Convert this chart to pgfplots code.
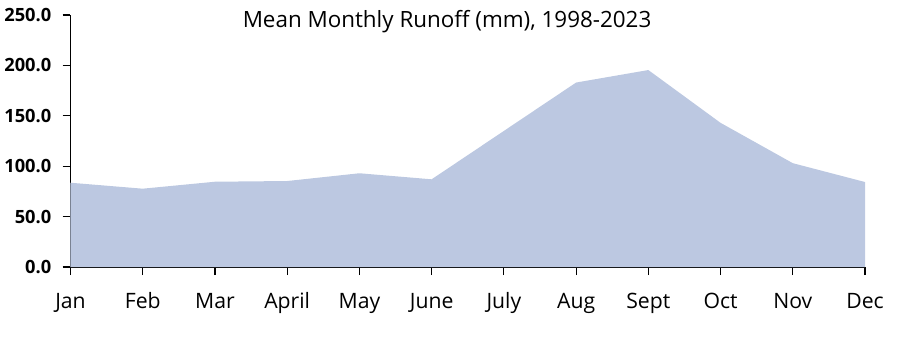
\documentclass[border=0pt]{standalone}
\usepackage{pgfplots}
\pgfplotsset{compat=1.18}
\usepackage{fontspec}
\setmainfont{Open Sans}
\definecolor{areafill}{RGB}{188,200,225}
\begin{document}
\begin{tikzpicture}
\path[use as bounding box] (-52.875pt,-52.5pt) rectangle (619.875pt,200.25pt);
\begin{axis}[
  at={(0,0)}, anchor=south west,
  scale only axis,
  width=595.9pt, height=189pt,
  xmin=0, xmax=11, ymin=0, ymax=250,
  axis lines=left,
  axis line style={-, line width=0.9pt},
  xtick={0,...,11},
  xticklabels={Jan,Feb,Mar,April,May,June,July,Aug,Sept,Oct,Nov,Dec},
  ytick={0,50,...,250},
  tick align=outside,
  major tick length=6pt,
  tick style={line width=0.9pt, black},
  yticklabel={\pgfmathprintnumber[fixed,fixed zerofill,precision=1]{\tick}},
  /pgf/number format/assume math mode=true,
  yticklabel style={font=\fontsize{13.7}{15}\selectfont\bfseries, inner sep=0pt, anchor=east, xshift=-8.2pt},
  xticklabel style={font=\fontsize{15.9}{18}\selectfont, inner sep=0pt, anchor=base, yshift=-25pt},
  typeset ticklabels with strut,
  clip=false,
]
\addplot[fill=areafill, draw=none] coordinates {
 (0,83.6) (1,77.7) (2,84.6) (3,85.3) (4,93) (5,87) (6,135) (7,183) (8,195.4) (9,143) (10,103) (11,84.3)
} \closedcycle;
\end{axis}
\node[font=\fontsize{16.8}{19}\selectfont, anchor=base, inner sep=0pt] at (282.4pt,179.5pt) {Mean Monthly Runoff (mm), 1998-2023};
\end{tikzpicture}
\end{document}
